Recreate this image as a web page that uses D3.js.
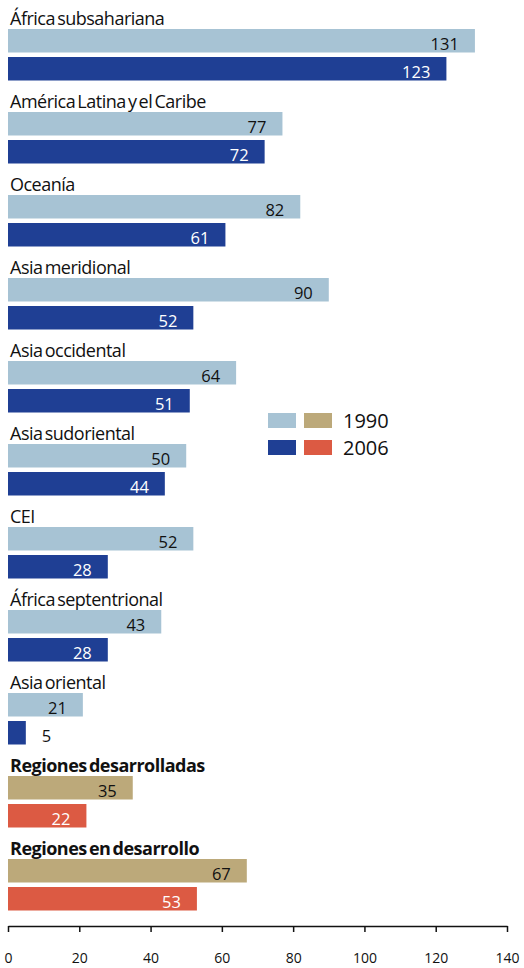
<!DOCTYPE html>
<html>
<head>
<meta charset="utf-8">
<script src="https://cdn.jsdelivr.net/npm/d3@7"></script>
<style>
  body { margin: 0; background: #fff; }
  text { font-family: "Open Sans", Lato, sans-serif; }
</style>
</head>
<body>
<svg width="524" height="968"></svg>
<script>
// regions, top to bottom
const regions = [
  "África subsahariana",
  "América Latina y el Caribe",
  "Oceanía",
  "Asia meridional",
  "Asia occidental",
  "Asia sudoriental",
  "CEI",
  "África septentrional",
  "Asia oriental",
  "Regiones desarrolladas",
  "Regiones en desarrollo"
];
const values1990 = [131, 77, 82, 90, 64, 50, 52, 43, 21, 35, 67];
const values2006 = [123, 72, 61, 52, 51, 44, 28, 28, 5, 22, 53];
const boldRegions = ["Regiones desarrolladas", "Regiones en desarrollo"];
const xTicks = [0, 20, 40, 60, 80, 100, 120, 140];
const years = ["1990", "2006"];

const colors = {
  r1990: "#a7c3d4", r2006: "#1f3f94",
  a1990: "#bca97a", a2006: "#dc5a43"
};

const svg = d3.select("svg");

const x = d3.scaleLinear().domain([0, 140]).range([8, 507]);
const y = d3.scaleBand().domain(regions).range([29, 29 + 83 * regions.length]).paddingInner(0).paddingOuter(0);

const barH = 23.5, barGap = 28;

const rows = regions.map((r, i) => ({
  region: r,
  v1990: values1990[i],
  v2006: values2006[i],
  agg: boldRegions.includes(r)
}));

const g = svg.append("g").selectAll("g")
  .data(rows)
  .enter().append("g")
  .attr("transform", d => `translate(0,${y(d.region)})`);

g.append("text")
  .attr("x", 10)
  .attr("y", -4)
  .attr("font-size", 18)
  .attr("font-weight", d => d.agg ? "bold" : "normal")
  .attr("fill", "#111")
  .style("letter-spacing", "-0.5px")
  .style("word-spacing", "-2px")
  .text(d => d.region);

const series = [
  { key: "v1990", off: 0, fill: d => d.agg ? colors.a1990 : colors.r1990, txt: "#111" },
  { key: "v2006", off: barGap, fill: d => d.agg ? colors.a2006 : colors.r2006, txt: "#fff" }
];

series.forEach(s => {
  g.append("rect")
    .attr("x", x(0))
    .attr("y", s.off)
    .attr("width", d => x(d[s.key]) - x(0))
    .attr("height", barH)
    .attr("fill", s.fill);

  g.append("text")
    .attr("x", d => {
      const w = x(d[s.key]) - x(0);
      return w < 30 ? x(d[s.key]) + 16 : x(d[s.key]) - 16;
    })
    .attr("y", s.off + barH - 3)
    .attr("text-anchor", d => (x(d[s.key]) - x(0)) < 30 ? "start" : "end")
    .attr("font-size", 16.5)
    .attr("fill", d => (x(d[s.key]) - x(0)) < 30 ? "#111" : s.txt)
    .text(d => d[s.key]);
});

// legend
const legend = svg.append("g").attr("transform", "translate(268,413)");
years.forEach((yr, i) => {
  const row = legend.append("g").attr("transform", `translate(0,${i * 27})`);
  row.append("rect").attr("width", 28).attr("height", 15)
    .attr("fill", i === 0 ? colors.r1990 : colors.r2006);
  row.append("rect").attr("x", 36).attr("width", 28).attr("height", 15)
    .attr("fill", i === 0 ? colors.a1990 : colors.a2006);
  row.append("text").attr("x", 75).attr("y", 15)
    .attr("font-size", 20).attr("fill", "#111").text(yr);
});

// axis
const axis = svg.append("g").attr("transform", "translate(0,926)")
  .call(d3.axisBottom(x).tickValues(xTicks).tickSize(6).tickSizeOuter(0).tickPadding(21));
axis.select(".domain").attr("stroke", "#111").attr("stroke-width", 1.5);
axis.selectAll(".tick line").attr("stroke", "#111").attr("stroke-width", 1.5);
axis.selectAll(".tick text")
  .attr("font-family", "'Open Sans', sans-serif")
  .attr("font-size", 14)
  .attr("fill", "#111");
</script>
</body>
</html>
